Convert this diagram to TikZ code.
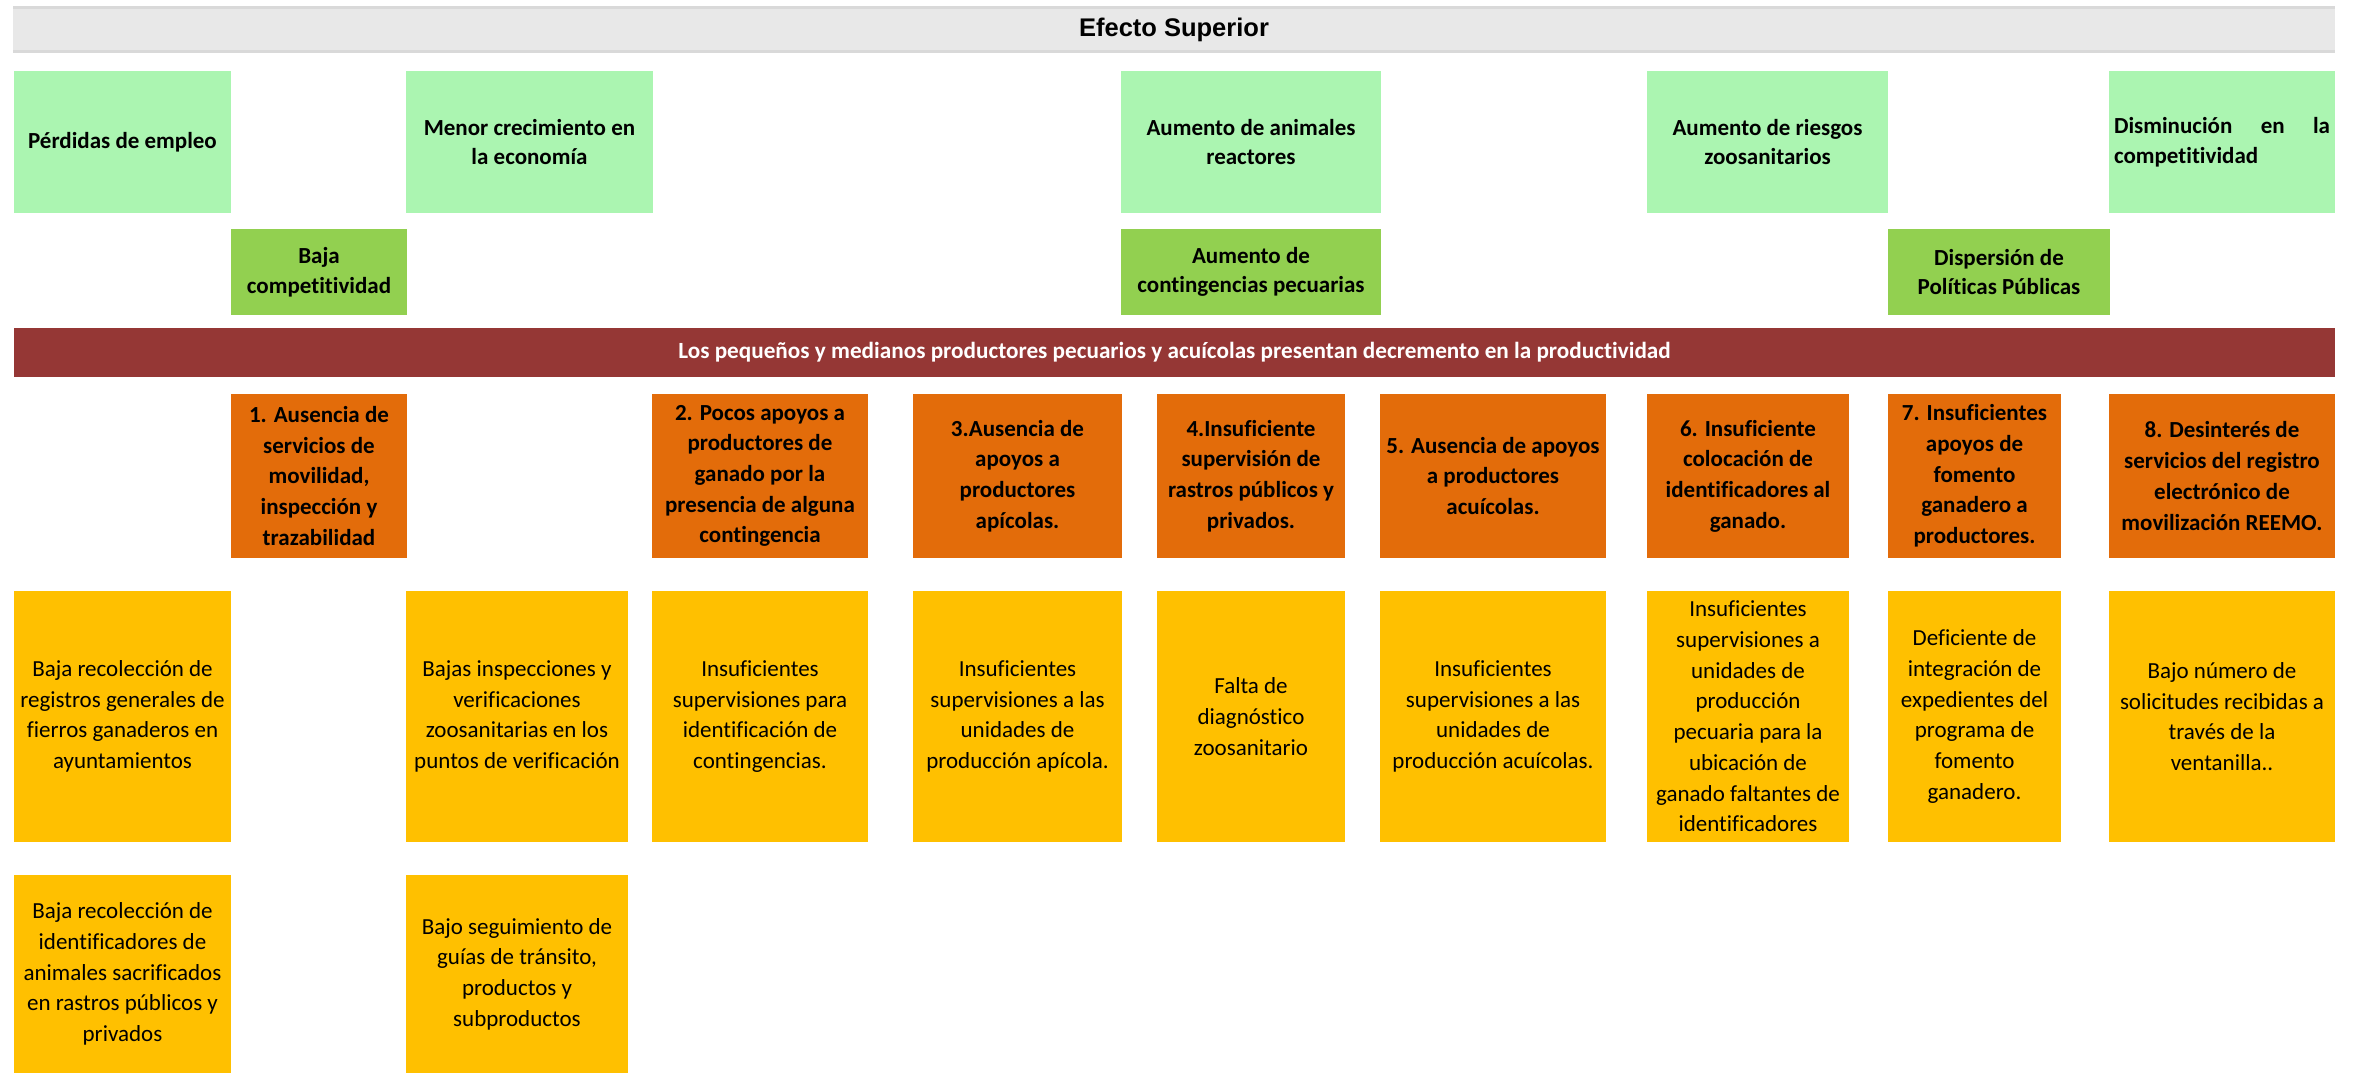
\documentclass[tikz,border=0pt]{standalone}
\usepackage{fontspec}
\setmainfont{Carlito}[Ligatures=NoCommon]
\newfontfamily\arialfont{Liberation Sans}
\definecolor{hdrgray}{HTML}{E8E8E8}
\definecolor{hdrline}{HTML}{D9D9D9}
\definecolor{lgreen}{HTML}{ABF5B1}
\definecolor{mgreen}{HTML}{92D050}
\definecolor{darkred}{HTML}{953735}
\definecolor{orng}{HTML}{E36C0A}
\definecolor{yell}{HTML}{FFC000}
\newcommand{\mybox}[7]{\node[#1, minimum width={(#4-#2)*1pt}, minimum height={(#5-#3)*1pt}] (#6) at ({(#2+#4)/2},{(#3+#5)/2}) {#7};}
\tikzset{
  basebox/.style={inner sep=0pt, outer sep=0pt, align=center, text=black},
  hdrbox/.style={basebox, fill=hdrgray, font=\arialfont\bfseries\fontsize{25.5}{30}\selectfont},
  hdrrule/.style={draw=hdrline, line width=3pt},
  effbox/.style={basebox, fill=lgreen, font=\bfseries\fontsize{23}{29.5}\selectfont},
  midbox/.style={basebox, fill=mgreen, font=\bfseries\fontsize{23}{29.5}\selectfont},
  probbox/.style={basebox, fill=darkred, text=white, font=\bfseries\fontsize{23.2}{29}\selectfont},
  causebox/.style={basebox, fill=orng, font=\bfseries\fontsize{23}{30.7}\selectfont},
  subbox/.style={basebox, fill=yell, font=\fontsize{23}{30.7}\selectfont}
}
\begin{document}
\begin{tikzpicture}[x=1pt, y=-1pt]
\useasboundingbox (0,0) rectangle (2354,1073);
\fill[white] (0,0) rectangle (2354,1073);
% header
\mybox{hdrbox}{13}{9}{2335}{50}{hdr}{Efecto Superior}
\draw[hdrrule] ([yshift=1.5pt]hdr.north west) -- ([yshift=1.5pt]hdr.north east);
\draw[hdrrule] ([yshift=-1.5pt]hdr.south west) -- ([yshift=-1.5pt]hdr.south east);
% effects
\mybox{effbox}{14}{71}{231}{213}{g1}{Pérdidas de empleo}
\mybox{effbox}{406}{71}{653}{213}{g2}{Menor crecimiento en\\la economía}
\mybox{effbox}{1121}{71}{1381}{213}{g3}{Aumento de animales\\reactores}
\mybox{effbox}{1647}{71}{1888}{213}{g4}{Aumento de riesgos\\zoosanitarios}
\node[effbox, align=left, minimum width=226pt, minimum height=142pt] (g5) at (2222,142) {\makebox[216pt][s]{Disminución en la}\\competitividad};
% mid effects
\mybox{midbox}{231}{229}{407}{315}{m1}{Baja\\competitividad}
\mybox{midbox}{1121}{229}{1381}{315}{m2}{Aumento de\\contingencias pecuarias}
\mybox{midbox}{1888}{229}{2110}{315}{m3}{Dispersión de\\Políticas Públicas}
% problem
\mybox{probbox}{14}{328}{2335}{377}{prob}{Los pequeños y medianos productores pecuarios y acuícolas presentan decremento en la productividad}
% causes
\mybox{causebox}{231}{394}{407}{558}{o1}{1. Ausencia de\\servicios de\\movilidad,\\inspección y\\trazabilidad}
\mybox{causebox}{652}{394}{868}{558}{o2}{2. Pocos apoyos a\\productores de\\ganado por la\\presencia de alguna\\contingencia}
\mybox{causebox}{913}{394}{1122}{558}{o3}{3.Ausencia de\\apoyos a\\productores\\apícolas.}
\mybox{causebox}{1157}{394}{1345}{558}{o4}{4.Insuficiente\\supervisión de\\rastros públicos y\\privados.}
\mybox{causebox}{1380}{394}{1606}{558}{o5}{5. Ausencia de apoyos\\a productores\\acuícolas.}
\mybox{causebox}{1647}{394}{1849}{558}{o6}{6. Insuficiente\\colocación de\\identificadores al\\ganado.}
\mybox{causebox}{1888}{394}{2061}{558}{o7}{7. Insuficientes\\apoyos de\\fomento\\ganadero a\\productores.}
\mybox{causebox}{2109}{394}{2335}{558}{o8}{8. Desinterés de\\servicios del registro\\electrónico de\\movilización REEMO.}
% sub-causes row 1
\mybox{subbox}{14}{591}{231}{842}{y1}{Baja recolección de\\registros generales de\\fierros ganaderos en\\ayuntamientos}
\mybox{subbox}{406}{591}{628}{842}{y2}{Bajas inspecciones y\\verificaciones\\zoosanitarias en los\\puntos de verificación}
\mybox{subbox}{652}{591}{868}{842}{y3}{Insuficientes\\supervisiones para\\identificación de\\contingencias.}
\mybox{subbox}{913}{591}{1122}{842}{y4}{Insuficientes\\supervisiones a las\\unidades de\\producción apícola.}
\mybox{subbox}{1157}{591}{1345}{842}{y5}{Falta de\\diagnóstico\\zoosanitario}
\mybox{subbox}{1380}{591}{1606}{842}{y6}{Insuficientes\\supervisiones a las\\unidades de\\producción acuícolas.}
\mybox{subbox}{1647}{591}{1849}{842}{y7}{Insuficientes\\supervisiones a\\unidades de\\producción\\pecuaria para la\\ubicación de\\ganado faltantes de\\identificadores}
\mybox{subbox}{1888}{591}{2061}{842}{y8}{Deficiente de\\integración de\\expedientes del\\programa de\\fomento\\ganadero.}
\mybox{subbox}{2109}{591}{2335}{842}{y9}{Bajo número de\\solicitudes recibidas a\\través de la\\ventanilla..}
% sub-causes row 2
\mybox{subbox}{14}{875}{231}{1073}{z1}{Baja recolección de\\identificadores de\\animales sacrificados\\en rastros públicos y\\privados}
\mybox{subbox}{406}{875}{628}{1073}{z2}{Bajo seguimiento de\\guías de tránsito,\\productos y\\subproductos}
\end{tikzpicture}
\end{document}
